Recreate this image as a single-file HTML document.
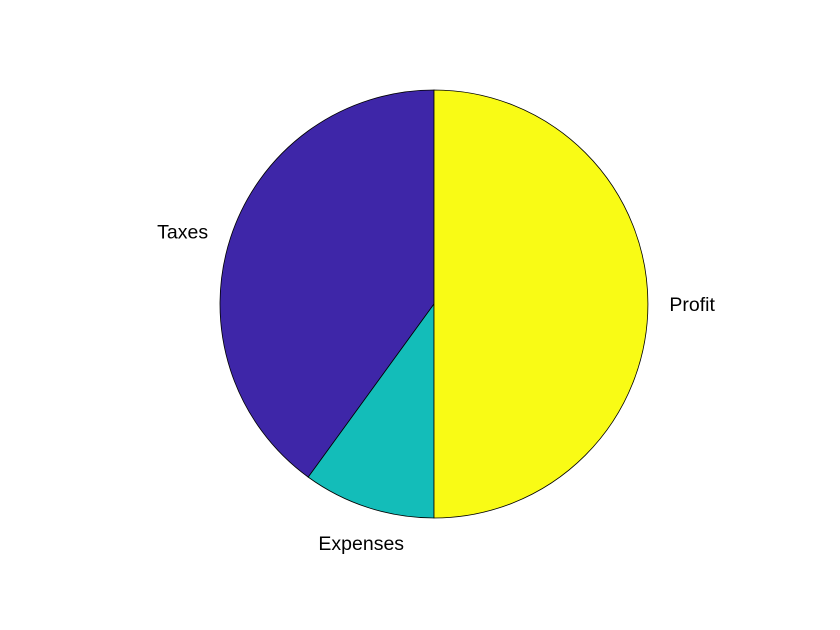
<!DOCTYPE html>
<html><head><meta charset="utf-8"><style>
body{margin:0;background:#fff;}
svg{display:block;font-family:"Liberation Sans",Arial,sans-serif;}
</style></head><body>
<svg id="chart" width="840" height="630" viewBox="0 0 840 630">
<rect width="840" height="630" fill="#fff"/>
<g id="slices"></g><g id="labels"></g>
</svg>
<script>
const categories = ["Taxes","Expenses","Profit"];
const values = [40,10,50];
const colors = ["#3e26a8","#13bdb9","#f9fb15"];
const cx=434, cy=304, R=214;
const ns="http://www.w3.org/2000/svg";
const total = values.reduce((a,b)=>a+b,0);
const sl=document.getElementById('slices'), lb=document.getElementById('labels');
let a0=Math.PI/2;
function pt(a,r){return [cx+r*Math.cos(a), cy-r*Math.sin(a)];}
values.forEach((v,i)=>{
  const a1=a0+v/total*2*Math.PI;
  const p0=pt(a0,R), p1=pt(a1,R);
  const large=(a1-a0)>Math.PI?1:0;
  const p=document.createElementNS(ns,'path');
  p.setAttribute('d',`M${cx},${cy} L${p0[0]},${p0[1]} A${R},${R} 0 ${large} 0 ${p1[0]},${p1[1]} Z`);
  p.setAttribute('fill',colors[i]);p.setAttribute('stroke','#000');p.setAttribute('stroke-width','0.8');
  
  
  sl.appendChild(p);
  const am=(a0+a1)/2, c=Math.cos(am), s=Math.sin(am);
  const lp=pt(am,R*1.1);
  const t=document.createElementNS(ns,'text');
  let anchor=Math.abs(c)<0.5?'middle':(c>0?'start':'end');
  let x=lp[0]+(anchor==='end'?-2:0);
  let y=lp[1]+7;
  if(Math.abs(c)<0.5) y = s<0 ? lp[1]+22 : lp[1]-8;
  t.setAttribute('x',x);t.setAttribute('y',y);
  t.setAttribute('text-anchor',anchor);t.setAttribute('font-size','19.5');t.setAttribute('fill','#000');
  t.textContent=categories[i];
  
  
  lb.appendChild(t);
  a0=a1;
});
</script>
</body></html>
